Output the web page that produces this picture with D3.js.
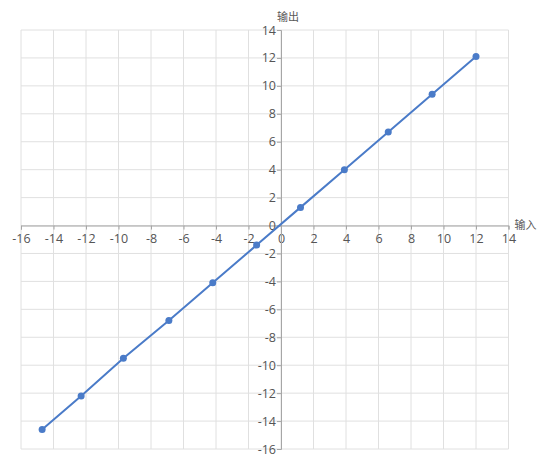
<!DOCTYPE html>
<html lang="zh">
<head>
<meta charset="utf-8">
<title>输入输出</title>
<script src="https://cdn.jsdelivr.net/npm/d3@7"></script>
<style>
  html, body { margin: 0; padding: 0; background: #fff; }
  text { font-family: "Noto Sans CJK SC", "Liberation Sans", sans-serif; }
</style>
</head>
<body>
<script>
// data
var inputs  = [-14.7, -12.3, -9.7, -6.9, -4.2, -1.5, 1.2, 3.9, 6.6, 9.3, 12.0];
var outputs = [-14.6, -12.2, -9.5, -6.8, -4.1, -1.4, 1.3, 4.0, 6.7, 9.4, 12.1];
var xTicks = [-16, -14, -12, -10, -8, -6, -4, -2, 0, 2, 4, 6, 8, 10, 12, 14];
var yTicks = [-16, -14, -12, -10, -8, -6, -4, -2, 0, 2, 4, 6, 8, 10, 12, 14];
var xTitle = "输入", yTitle = "输出";

var width = 541, height = 456;
var svg = d3.select("body").append("svg")
    .attr("width", width)
    .attr("height", height);

var x = d3.scaleLinear().domain([-16, 14]).range([21, 508.5]);
var y = d3.scaleLinear().domain([-16, 14]).range([449, 30]);

var points = inputs.map(function(d, i) { return {x: d, y: outputs[i]}; });

// grid
svg.append("g").selectAll("line.v")
    .data(xTicks).enter().append("line")
    .attr("x1", function(d) { return x(d); })
    .attr("x2", function(d) { return x(d); })
    .attr("y1", y(14)).attr("y2", y(-16))
    .attr("stroke", "#e0e0e0").attr("stroke-width", 1);

svg.append("g").selectAll("line.h")
    .data(yTicks).enter().append("line")
    .attr("y1", function(d) { return y(d); })
    .attr("y2", function(d) { return y(d); })
    .attr("x1", x(-16)).attr("x2", x(14))
    .attr("stroke", "#e0e0e0").attr("stroke-width", 1);

// axes through zero, plain hyphen for negatives like the original
var fmt = function(d) { return String(d); };
var xAxis = d3.axisBottom(x).tickValues(xTicks).tickFormat(fmt).tickSize(4).tickPadding(5);
var yAxis = d3.axisLeft(y).tickValues(yTicks).tickFormat(fmt).tickSize(4).tickPadding(1);

var gx = svg.append("g")
    .attr("transform", "translate(0," + y(0) + ")")
    .call(xAxis);
var gy = svg.append("g")
    .attr("transform", "translate(" + x(0) + ",0)")
    .call(yAxis);

[gx, gy].forEach(function(g) {
  g.select(".domain").attr("stroke", "#a6a6a6").attr("stroke-width", 1);
  g.selectAll(".tick line").attr("stroke", "#a6a6a6");
  g.selectAll(".tick text")
    .attr("fill", "#555")
    .style("font-size", "12.5px")
    .style("font-family", "'Open Sans', 'Liberation Sans', sans-serif");
});

// axis titles
svg.append("text")
    .attr("x", x(0) - 4).attr("y", 21)
    .attr("fill", "#595959")
    .style("font-size", "11px")
    .text(yTitle);

svg.append("text")
    .attr("x", x(14) + 6).attr("y", y(0) + 3)
    .attr("fill", "#595959")
    .style("font-size", "11px")
    .text(xTitle);

// series
var line = d3.line()
    .x(function(d) { return x(d.x); })
    .y(function(d) { return y(d.y); });

svg.append("path")
    .datum(points)
    .attr("d", line)
    .attr("fill", "none")
    .attr("stroke", "#4a7bc8")
    .attr("stroke-width", 2);

svg.append("g").selectAll("circle")
    .data(points).enter().append("circle")
    .attr("cx", function(d) { return x(d.x); })
    .attr("cy", function(d) { return y(d.y); })
    .attr("r", 3.5)
    .attr("fill", "#4a7bc8");
</script>
</body>
</html>
